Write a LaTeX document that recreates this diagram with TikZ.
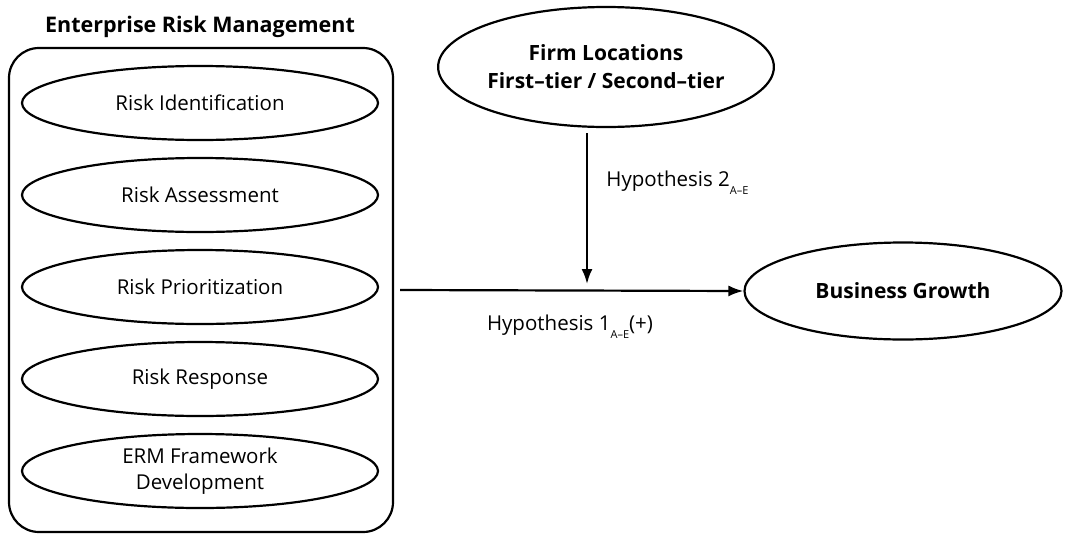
\documentclass[tikz,border=0pt]{standalone}
\usepackage{fontspec}
\setmainfont{Open Sans}
\usetikzlibrary{shapes.geometric,arrows.meta}
\newcommand{\hsub}[1]{\raisebox{-8pt}{\fontsize{11}{11}\selectfont #1}}
\begin{document}
\begin{tikzpicture}[x=1pt,y=-1pt,line width=2.2pt,
    every node/.style={font=\fontsize{20.5}{26}\selectfont},
    risk/.style={draw,shape=ellipse,minimum width=356pt,minimum height=74pt,inner sep=0pt,align=center}]
      \useasboundingbox (0,0) rectangle (1070,536);
      \node (ermtitle) at (200,27) {\fontsize{21.5}{26}\selectfont\bfseries Enterprise Risk Management};
      \node (erm) [draw,rounded corners=30pt,minimum width=384pt,minimum height=484pt] at (201,290) {};

      \node (ident) [risk] at (200,103) {Risk Identification};
      \node (assess) [risk] at (200,195) {Risk Assessment};
      \node (prior) [risk] at (200,287) {Risk Prioritization};
      \node (resp) [risk] at (200,379) {Risk Response};
      \node (frame) [risk] at (200,471) {ERM Framework\\Development};

      \node (firm) [draw,shape=ellipse,minimum width=333pt,minimum height=120pt,inner sep=0pt,align=center,font=\fontsize{21}{28}\selectfont\bfseries] at (606,67) {Firm Locations\\First–tier / Second–tier};
      \node (growth) [draw,shape=ellipse,minimum width=317pt,minimum height=97pt,inner sep=0pt,font=\fontsize{21}{26}\selectfont\bfseries] at (903,291) {Business Growth};

      \coordinate (ermout) at (400,290);
      \coordinate (vtop) at (587,133);
      \coordinate (vend) at (587,284);

      \draw [-{Latex[length=15pt,width=11pt]}] (ermout) -- (growth.west);
      \draw [-{Latex[length=15pt,width=11pt]}] (vtop) -- (vend);

      \node (h2) [anchor=west] at (602,183) {Hypothesis 2\hsub{A–E}};
      \node (h1) at (570,327) {Hypothesis 1\hsub{A–E}(+)};
    \end{tikzpicture}
\end{document}
